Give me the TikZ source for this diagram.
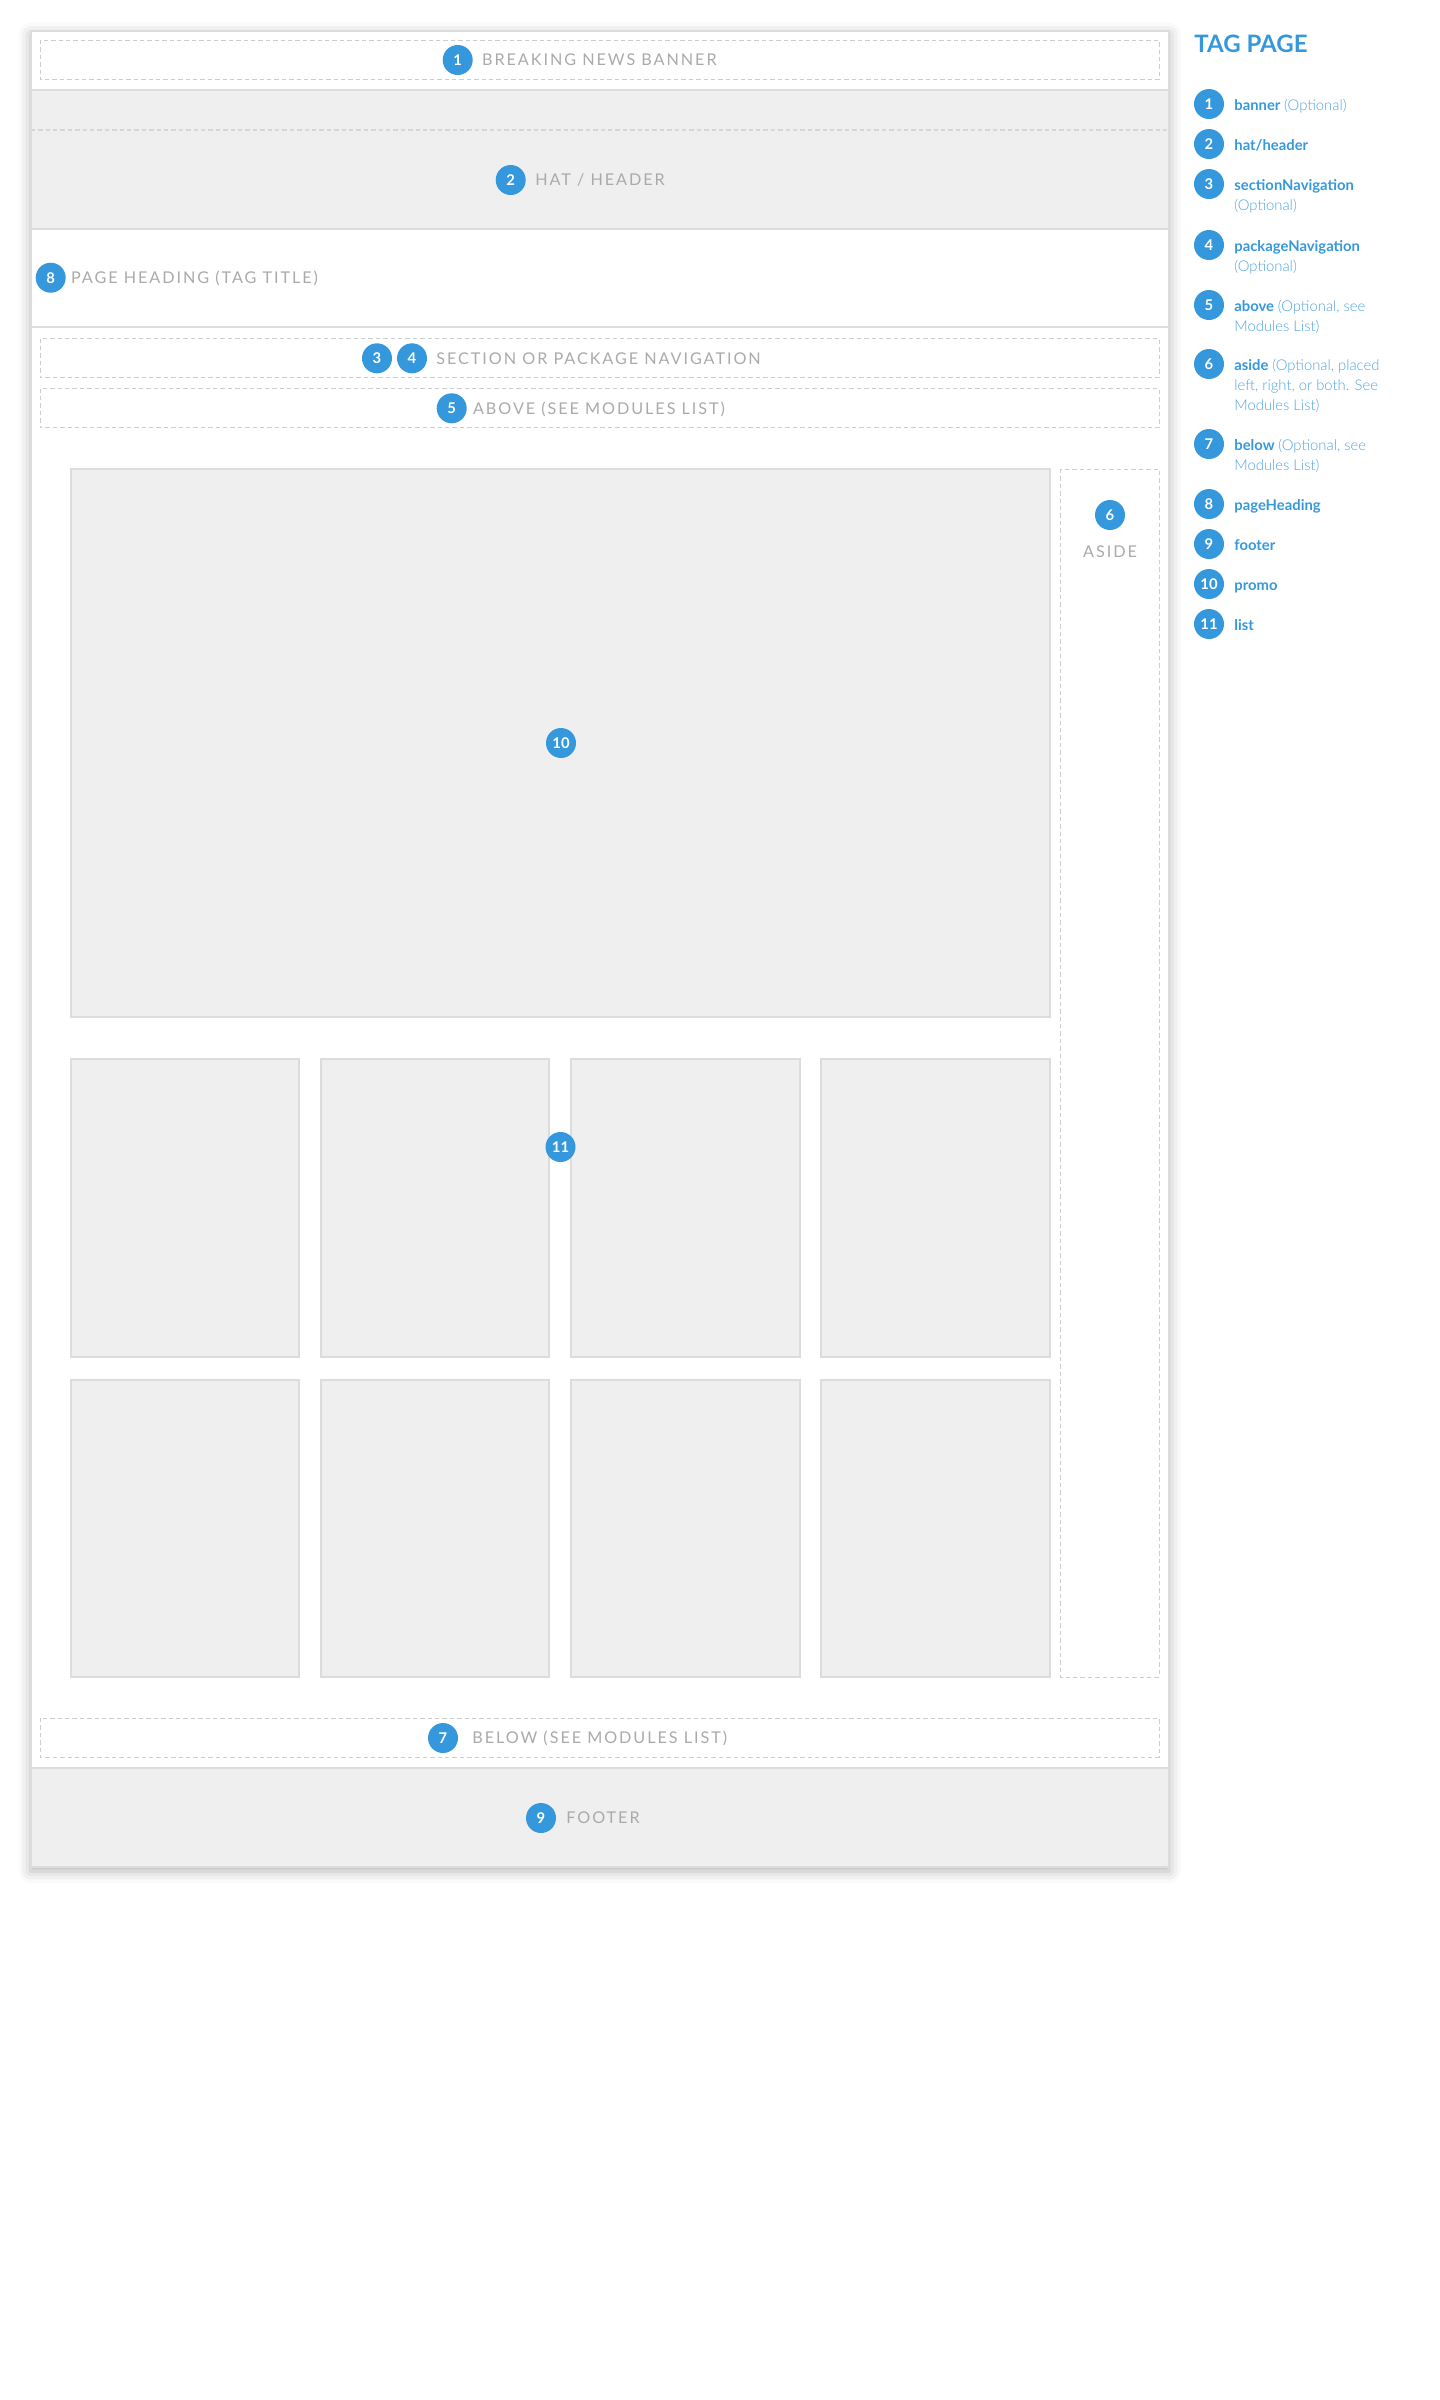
\documentclass[tikz,border=0pt]{standalone}
\usepackage{fontspec}
\setmainfont{Lato}
\newfontfamily\latolight{Lato Light}
\usetikzlibrary{shadows.blur}
\definecolor{bblue}{HTML}{3598DC}
\definecolor{lblue}{HTML}{4FA3E0}
\definecolor{tgray}{HTML}{AAAAAA}
\definecolor{fgray}{HTML}{EFEFEF}
\definecolor{bgray}{HTML}{DCDCDC}
\definecolor{dgray}{HTML}{CCCCCC}
\begin{document}
\begin{tikzpicture}[x=0.5pt,y=-0.5pt,
  badge/.style={circle, fill=bblue, text=white, minimum size=15pt, inner sep=0pt,
    font=\fontsize{7.4pt}{8pt}\selectfont\bfseries},
  lbl/.style={text=tgray, inner sep=0pt, anchor=base west,
    font=\fontsize{8.1pt}{10pt}\selectfont\addfontfeature{LetterSpace=12}},
  dbox/.style={draw=dgray, dash pattern=on 2.2pt off 1.5pt, line width=0.5pt},
  gbox/.style={draw=bgray, fill=fgray, line width=1pt},
  sep/.style={draw=bgray, line width=1pt},
  leg/.style={text=bblue, inner sep=0pt, anchor=base west,
    font=\fontsize{7.4pt}{10pt}\selectfont},
  legl/.style={text=lblue, inner sep=0pt, anchor=base west,
    font=\fontsize{7.4pt}{10pt}\selectfont\latolight},
]
\useasboundingbox (0,0) rectangle (1440,2400);

% frame
\path[fill=white, blur shadow={shadow xshift=0pt, shadow yshift=-2pt, shadow blur radius=6pt, shadow opacity=30}]
  (30.7,30.7) rectangle (1169,1867);
\fill[fgray] (30.7,90) rectangle (1169,228.5);
\fill[fgray] (30.7,1768) rectangle (1169,1867);
\draw[draw=dgray!80, dash pattern=on 2.2pt off 1.5pt, line width=0.7pt] (30.7,130) -- (1169,130);
\draw[sep] (30.7,90) -- (1169,90);
\draw[sep] (30.7,228.5) -- (1169,228.5);
\draw[sep] (30.7,327) -- (1169,327);
\draw[sep] (30.7,1768) -- (1169,1768);
\draw[sep] (30.7,30.7) rectangle (1169,1867);

% dashed regions
\draw[dbox] (40,40) rectangle (1159,79.5);
\draw[dbox] (40,338.5) rectangle (1159,377.5);
\draw[dbox] (40,388.5) rectangle (1159,427.5);
\draw[dbox] (1060,469) rectangle (1159,1677);
\draw[dbox] (40,1718) rectangle (1159,1757);

% promo and list
\draw[gbox] (70.5,469) rectangle (1050,1017);
\foreach \xa/\xb in {70.5/299, 320.5/549, 571/799.5, 821/1050}{
  \draw[gbox] (\xa,1059) rectangle (\xb,1357);
  \draw[gbox] (\xa,1380) rectangle (\xb,1677);
}

% badges and labels in the page
\node[badge] (b1) at (457.7,60) {1};
\node[lbl] (t1) at (481.7,65.8) {BREAKING NEWS BANNER};
\node[badge] (b2) at (510.7,180) {2};
\node[lbl] (t2) at (535,185.8) {HAT / HEADER};
\node[badge] (b8) at (50.7,277.7) {8};
\node[lbl] (t8) at (70.7,283.5) {PAGE HEADING (TAG TITLE)};
\node[badge] (b3) at (377,358.3) {3};
\node[badge] (b4) at (412,358.3) {4};
\node[lbl] (t3) at (436,364.1) {SECTION OR PACKAGE NAVIGATION};
\node[badge] (b5) at (451.7,408.3) {5};
\node[lbl] (t5) at (472.7,414.1) {ABOVE (SEE MODULES LIST)};
\node[badge] (b6) at (1110,515) {6};
\node[lbl, anchor=base] (t6) at (1110,557.3) {ASIDE};
\node[badge] (b10) at (561,743) {10};
\node[badge] (b11) at (560.5,1147) {11};
\node[badge] (b7) at (443,1738) {7};
\node[lbl] (t7) at (472,1743.8) {BELOW (SEE MODULES LIST)};
\node[badge] (b9) at (541,1818) {9};
\node[lbl] (t9) at (566,1823.8) {FOOTER};

% legend
\node[text=bblue, inner sep=0pt, anchor=base west, font=\fontsize{12pt}{14pt}\selectfont\bfseries] (title) at (1194,52.5) {TAG PAGE};
\foreach \n/\y in {1/104,2/144,3/184,4/245,5/305,6/364,7/444,8/504,9/544,10/584,11/624}{
  \node[badge] (l\n) at (1209,\y) {\n};
}
\node[leg] (g1) at (1234,110) {\textbf{banner} {\latolight\color{lblue}(Optional)}};
\node[leg] (g2) at (1234,150) {\textbf{hat/header}};
\node[leg] (g3) at (1234,190) {\textbf{sectionNavigation}};
\node[legl] (g3b) at (1234,210) {(Optional)};
\node[leg] (g4) at (1234,251) {\textbf{packageNavigation}};
\node[legl] (g4b) at (1234,271) {(Optional)};
\node[leg] (g5) at (1234,311) {\textbf{above} {\latolight\color{lblue}(Optional, see}};
\node[legl] (g5b) at (1234,331) {Modules List)};
\node[leg] (g6) at (1234,370) {\textbf{aside} {\latolight\color{lblue}(Optional, placed}};
\node[legl] (g6b) at (1234,390) {left, right, or both. See};
\node[legl] (g6c) at (1234,410) {Modules List)};
\node[leg] (g7) at (1234,450) {\textbf{below} {\latolight\color{lblue}(Optional, see}};
\node[legl] (g7b) at (1234,470) {Modules List)};
\node[leg] (g8) at (1234,510) {\textbf{pageHeading}};
\node[leg] (g9) at (1234,550) {\textbf{footer}};
\node[leg] (g10) at (1234,590) {\textbf{promo}};
\node[leg] (g11) at (1234,630) {\textbf{list}};
\end{tikzpicture}
\end{document}
